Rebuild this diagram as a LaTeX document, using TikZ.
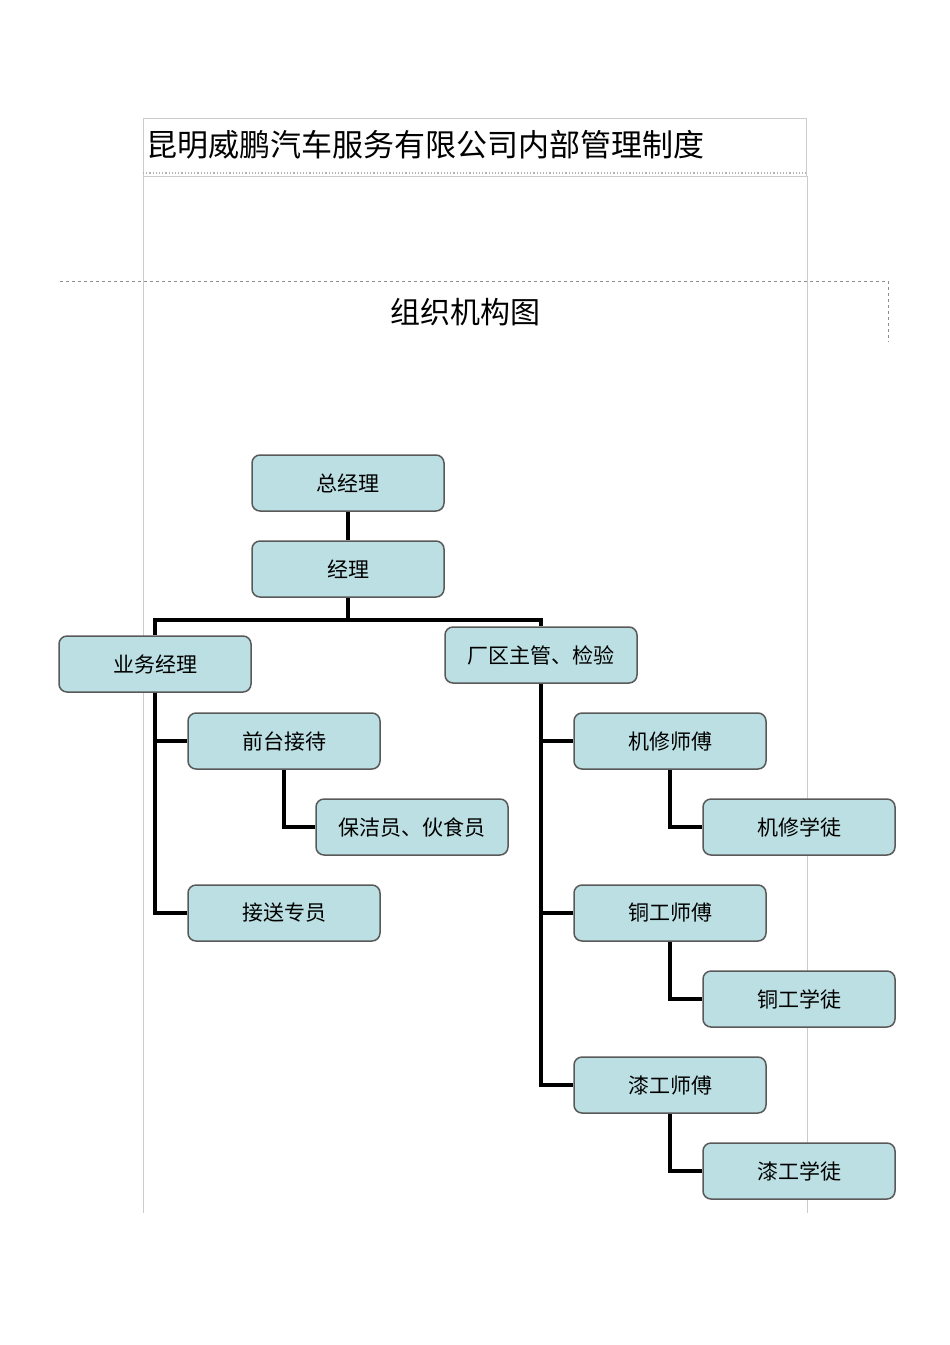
\documentclass[tikz,border=0pt]{standalone}
\usepackage{fontspec}
\setmainfont{Noto Sans CJK SC}
\definecolor{boxfill}{RGB}{187,223,226}
\begin{document}
\begin{tikzpicture}[x=1pt,y=-1pt,
  box/.style={draw=black!65,line width=1.5pt,fill=boxfill,rounded corners=8pt,minimum width=192pt,minimum height=56pt,font=\fontsize{21}{24}\selectfont},
  conn/.style={line width=3.5pt,black},
  faint/.style={draw=black!20,line width=0.8pt}]
\useasboundingbox (0,0) rectangle (950,1345);
\draw[faint] (143,118) rectangle (806,176);
\draw[black!30,dotted,line width=1.2pt] (143,173) -- (806,173);
\draw[faint] (143,176) -- (143,1213);
\draw[faint] (807,176) -- (807,1213);
\node[anchor=west,font=\fontsize{31}{36}\selectfont] (title) at (143,145) {昆明威鹏汽车服务有限公司内部管理制度};
\draw[black!45,dashed,line width=0.8pt] (60,281) -- (888,281) -- (888,342);
\node[font=\fontsize{30}{36}\selectfont] (sub) at (465,312) {组织机构图};

\node[box] (gm) at (348,483) {总经理};
\node[box] (m) at (348,569) {经理};
\node[box] (yw) at (155,664) {业务经理};
\node[box] (cq) at (541,655) {厂区主管、检验};
\node[box] (qt) at (284,741) {前台接待};
\node[box] (bj) at (412,827) {保洁员、伙食员};
\node[box] (js) at (284,913) {接送专员};
\node[box] (jx) at (670,741) {机修师傅};
\node[box] (jxx) at (799,827) {机修学徒};
\node[box] (tg) at (670,913) {铜工师傅};
\node[box] (tgx) at (799,999) {铜工学徒};
\node[box] (qg) at (670,1085) {漆工师傅};
\node[box] (qgx) at (799,1171) {漆工学徒};

\draw[conn] (gm) -- (m);
\draw[conn] (m.south) -- ++(0,22) -| (yw.north);
\draw[conn] (m.south) ++(0,22) -| (cq.north);
\draw[conn] (yw.south) |- (js.west);
\draw[conn] (yw.south) |- (qt.west);
\draw[conn] (qt.south) |- (bj.west);
\draw[conn] (cq.south) |- (qg.west);
\draw[conn] (cq.south) |- (jx.west);
\draw[conn] (cq.south) |- (tg.west);
\draw[conn] (jx.south) |- (jxx.west);
\draw[conn] (tg.south) |- (tgx.west);
\draw[conn] (qg.south) |- (qgx.west);
\end{tikzpicture}
\end{document}
